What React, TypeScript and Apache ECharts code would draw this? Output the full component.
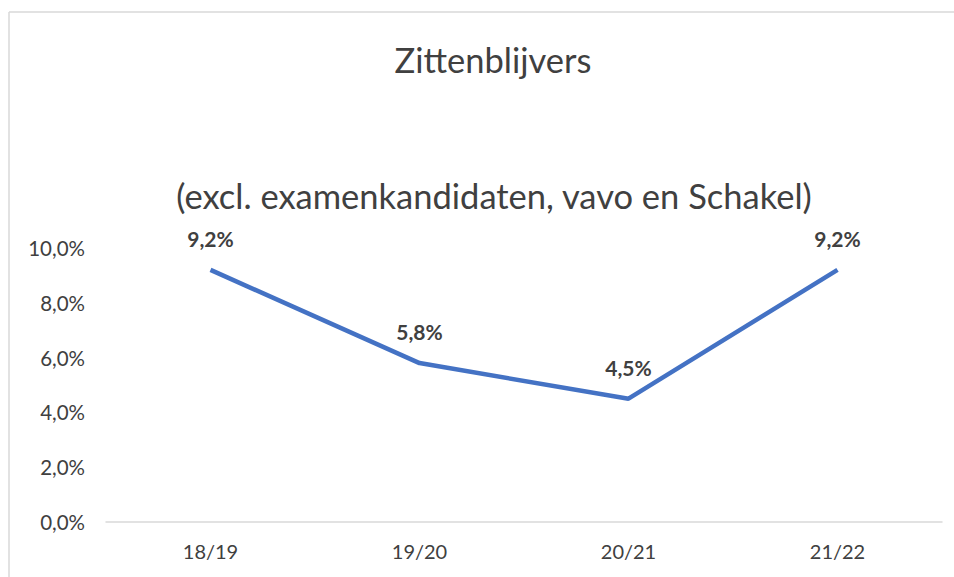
import React, { useEffect, useRef } from "react";
import * as echarts from "echarts";

const categories = ["18/19", "19/20", "20/21", "21/22"];
const values = [9.2, 5.8, 4.5, 9.2];
const yTicks = [0, 2, 4, 6, 8, 10];
const titleText = "Zittenblijvers";
const subtitleText = "(excl. examenkandidaten, vavo en Schakel)";

const FONT = "Lato";
const fmt = (v: number) => v.toFixed(1).replace(".", ",") + "%";

export default function App() {
  const ref = useRef<HTMLDivElement>(null);
  useEffect(() => {
    const chart = echarts.init(ref.current!, null, { renderer: "svg" });
    chart.setOption({
      animation: false,
      backgroundColor: "#ffffff",
      title: [
        {
          text: titleText,
          left: 488,
          top: 54,
          textAlign: "center",
          textVerticalAlign: "middle",
          textStyle: { fontFamily: FONT, fontSize: 34.5, fontWeight: "normal", color: "#404040" },
        },
        {
          text: subtitleText,
          left: 489,
          top: 190,
          textAlign: "center",
          textVerticalAlign: "middle",
          textStyle: { fontFamily: FONT, fontSize: 34.5, fontWeight: "normal", color: "#404040" },
        },
      ],
      graphic: [
        { type: "line", shape: { x1: 9, y1: 12, x2: 954, y2: 12 }, style: { stroke: "#d9d9d9", lineWidth: 1.5 } },
        { type: "line", shape: { x1: 9, y1: 12, x2: 9, y2: 577 }, style: { stroke: "#d9d9d9", lineWidth: 1.5 } },
      ],
      grid: { left: 106, right: 12, top: 248, bottom: 55, containLabel: false },
      xAxis: {
        type: "category",
        data: categories,
        boundaryGap: true,
        axisLine: { lineStyle: { color: "#d9d9d9", width: 1.5 } },
        axisTick: { show: false },
        axisLabel: { fontFamily: FONT, fontSize: 20, color: "#404040", margin: 19 },
      },
      yAxis: {
        type: "value",
        min: yTicks[0],
        max: yTicks[yTicks.length - 1],
        interval: 2,
        splitLine: { show: false },
        axisLine: { show: false },
        axisTick: { show: false },
        axisLabel: { fontFamily: FONT, fontSize: 20.5, color: "#404040", margin: 21, formatter: (v: number) => fmt(v) },
      },
      series: [
        {
          type: "line",
          data: values,
          symbol: "circle",
          symbolSize: 0,
          showSymbol: true,
          itemStyle: { color: "#4472C4" },
          lineStyle: { color: "#4472C4", width: 4.5 },
          label: {
            show: true,
            position: "top",
            distance: 21,
            fontFamily: FONT,
            fontSize: 21,
            fontWeight: "bold",
            color: "#404040",
            formatter: (p: any) => fmt(p.value),
          },
        },
      ],
    });
    return () => chart.dispose();
  }, []);
  return <div ref={ref} style={{ position: "fixed", left: 0, top: 0, width: 954, height: 577 }} />;
}
